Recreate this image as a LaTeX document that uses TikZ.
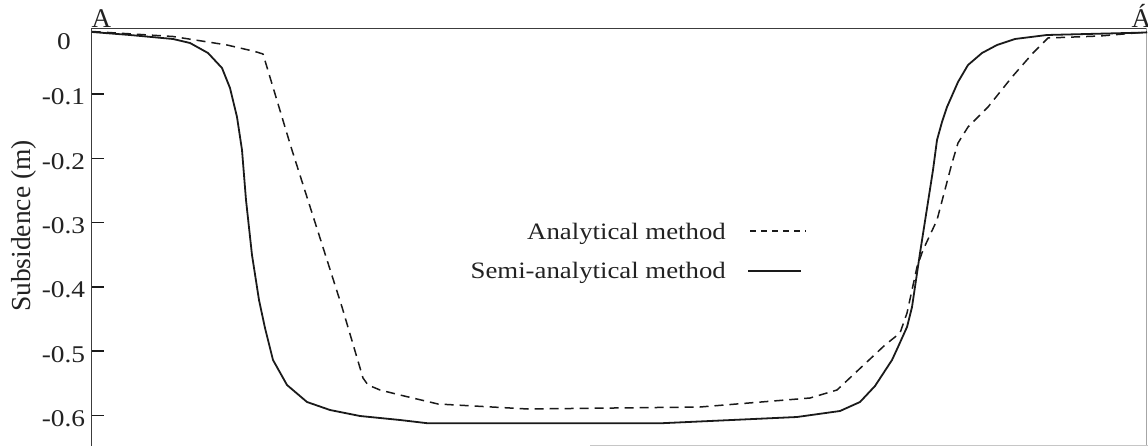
\documentclass[tikz,border=0pt]{standalone}
\usepackage{fontspec}
\setmainfont{Liberation Serif}[FakeStretch=1.14]
\newfontfamily\plainserif{Liberation Serif}
\definecolor{ink}{HTML}{1A1A1A}
\definecolor{txt}{HTML}{222222}
\tikzset{
  axisline/.style={draw=ink!85, line width=1.3pt},
  tickmark/.style={draw=ink, line width=1.5pt},
  ticklabel/.style={anchor=base, inner sep=0pt, text=txt, font=\fontsize{24}{26}\selectfont},
  legendlabel/.style={anchor=base east, inner sep=0pt, text=txt, font=\fontsize{23.5}{26}\selectfont},
  pointlabel/.style={anchor=base west, inner sep=0pt, text=txt, font=\plainserif\fontsize{27}{30}\selectfont},
  semicurve/.style={draw=ink, line width=1.8pt, line join=round},
  anacurve/.style={draw=ink, line width=1.5pt, line join=round, dash pattern=on 9pt off 6pt},
  analegend/.style={draw=ink, line width=1.5pt, dash pattern=on 6pt off 5pt},
}
\begin{document}
\begin{tikzpicture}[x=1pt,y=-1pt]
\useasboundingbox (0,0) rectangle (1148,446);
% frame
\coordinate (tl) at (91.5,28.5);
\coordinate (tr) at (1146.5,28.5);
\coordinate (bl) at (91.5,446);
\coordinate (br) at (1146.5,446);
\draw[axisline] (bl) -- (tl) -- (tr);
\draw[draw=gray!70, line width=1.2pt] (tr) -- (br);
\coordinate (bs) at (590,445.5);
\coordinate (be) at (1148,445.5);
\draw[draw=gray!45, line width=1pt] (bs) -- (be);
% ticks
\foreach \k/\lab in {1/-0.1,2/-0.2,3/-0.3,4/-0.4,5/-0.5,6/-0.6}{
  \pgfmathsetmacro{\yy}{94+64.3*(\k-1)}
  \coordinate (ta\k) at (91.5,\yy);
  \coordinate (tb\k) at (104,\yy);
  \draw[tickmark] (ta\k) -- (tb\k);
  \node[ticklabel] (tl\k) at (63.5,\yy+11) {\lab};
}
\node[ticklabel] (tl0) at (64,50) {0};
% axis title
\node[rotate=90, inner sep=0pt, text=txt, font=\plainserif\fontsize{27.5}{30}\selectfont] (ylab) at (24,226) {Subsidence (m)};
% section labels
\node[pointlabel] (pA) at (91.5,27.5) {A};
\node[pointlabel] (pA2) at (1131.5,27.5) {Á};
% curves
\draw[anacurve] plot coordinates {(92,31.5) (173,36.5) (227,45) (255,51.5) (263,54) (291,147) (342,307) (363,378) (368,385) (380,390) (400,395) (438,404) (528,409) (700,407) (810,398) (837,390) (885,345) (900,333) (907,313) (917,267) (923,250) (937,220) (952,163) (958,143) (968,127) (988,107) (1012,77) (1033,53) (1048,38) (1100,36) (1147,32)};
\draw[semicurve] plot coordinates {(92,32) (130,35) (173,39) (190,43) (208,53) (222,68) (230,88) (237,117) (242,150) (246,200) (252,255) (259,300) (265,328) (273,360) (287,385) (307,402) (330,410) (360,416) (400,420) (428,423.3) (660,423.3) (797,417) (840,411) (860,402) (875,386) (892,360) (898,347) (907,327) (912,307) (920,253) (933,170) (937,140) (942,122) (947,107) (958,82) (968,65) (982,53) (997,45) (1015,39) (1047,35) (1147,32.5)};
% legend
\node[legendlabel] (la) at (726,239.5) {Analytical method};
\node[legendlabel] (ls) at (726,279) {Semi-analytical method};
\coordinate (las) at (750,231);
\coordinate (lae) at (806,231);
\coordinate (lss) at (748,271);
\coordinate (lse) at (801,271);
\draw[analegend] (las) -- (lae);
\draw[semicurve] (lss) -- (lse);
\end{tikzpicture}
\end{document}
